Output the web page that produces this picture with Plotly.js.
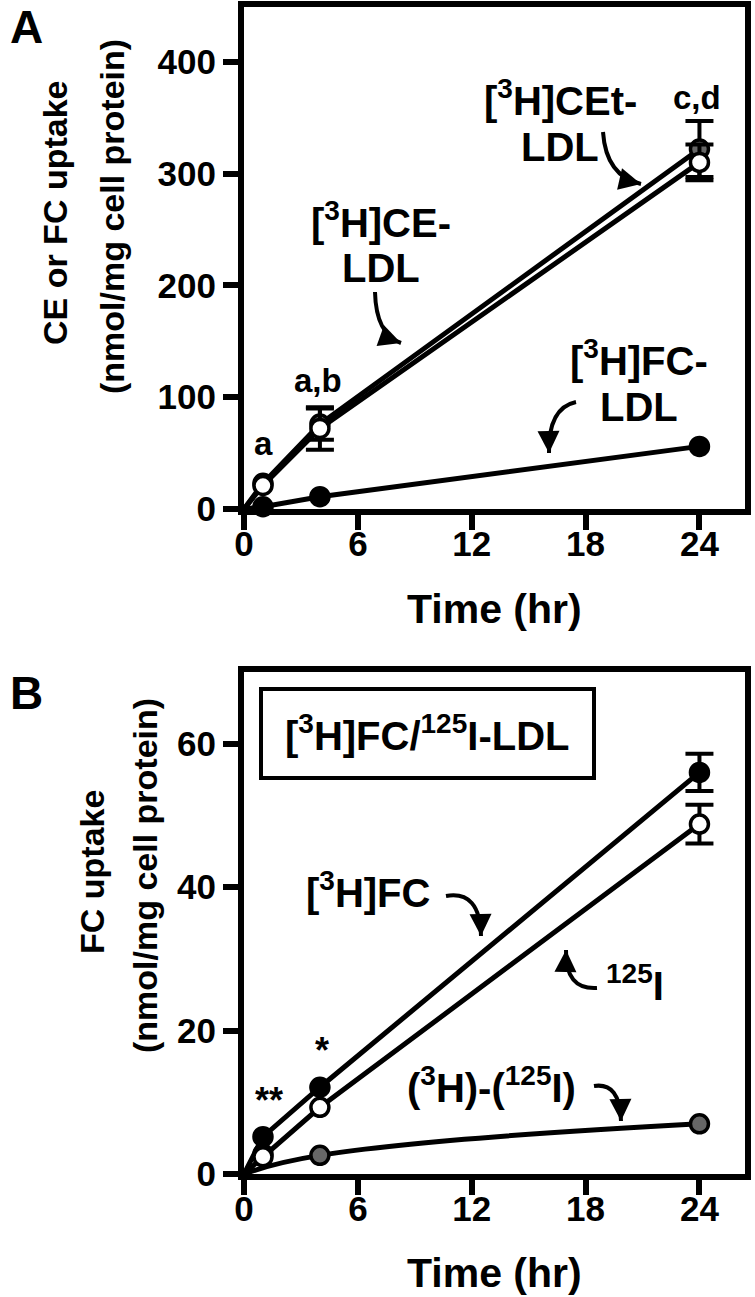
<!DOCTYPE html>
<html>
<head>
<meta charset="utf-8">
<script src="https://cdn.plot.ly/plotly-3.0.1.min.js"></script>
<style>
  body { margin: 0; background: #fff; }
  #chart { width: 755px; height: 1297px; }
</style>
</head>
<body>
<div id="chart"></div>
<script>
// ---- Panel A: uptake (nmol/mg cell protein) vs time (hr) ----
// NaN error = bar hidden behind the marker in the original
const timeA = [0, 1, 4, 24];
const ceTether = [0, 23, 76, 322];      // [3H]CEt-LDL (grey)
const ceTetherErr = [NaN, NaN, 14, 25];
const ceLdl = [0, 21, 72, 310];         // [3H]CE-LDL (open)
const ceLdlErr = [NaN, NaN, 19, 16];
const fcLdl = [0, 2, 11, 56];           // [3H]FC-LDL (black)
const fcLdlErr = [NaN, NaN, NaN, NaN];

// ---- Panel B: FC uptake, [3H]FC/125I-LDL ----
const timeB = [0, 1, 4, 24];
const fc3h = [0, 5.2, 12.1, 56];        // [3H]FC (black)
const fc3hErr = [NaN, NaN, NaN, 2.6];
const iodine125 = [0, 2.4, 9.3, 48.8];  // 125I (open)
const iodine125Err = [NaN, NaN, NaN, 2.7];
const diffTime = [1, 4, 24];            // (3H)-(125I) (grey)
const diffVal = [2.8, 2.6, 7.0];

const xTicks = [0, 6, 12, 18, 24];
const yTicksA = [0, 100, 200, 300, 400];
const yTicksB = [0, 20, 40, 60];

const W = 755, H = 1297;
const FONT = 'Liberation Sans, Arial, Helvetica, sans-serif';
const MS = 18;
const px = x => x / W;
const py = y => 1 - y / H;
const hide0 = arr => arr.map((v, i) => (i === 0 ? 0 : MS));

function series(x, y, err, fill, xa, ya) {
  return {
    x: x, y: y, xaxis: xa, yaxis: ya,
    type: 'scatter', mode: 'lines+markers', cliponaxis: false,
    line: { color: '#000', width: 5 },
    marker: { symbol: 'circle', size: hide0(x), opacity: 1, color: fill, line: { color: '#000', width: 3.5 } },
    error_y: { type: 'data', array: err, visible: true, thickness: 4, width: 14, color: '#000' },
    showlegend: false, hoverinfo: 'x+y'
  };
}

const traces = [
  series(timeA, ceTether, ceTetherErr, '#666666', 'x', 'y'),
  series(timeA, ceLdl, ceLdlErr, '#ffffff', 'x', 'y'),
  series(timeA, fcLdl, fcLdlErr, '#000000', 'x', 'y'),
  // grey difference curve from origin through the later points
  {
    x: [0].concat(diffTime.slice(1)), y: [0].concat(diffVal.slice(1)),
    xaxis: 'x2', yaxis: 'y2', type: 'scatter', mode: 'lines', cliponaxis: false,
    line: { color: '#000', width: 5, shape: 'spline', smoothing: 1.3 },
    showlegend: false, hoverinfo: 'skip'
  },
  {
    x: diffTime, y: diffVal, xaxis: 'x2', yaxis: 'y2', type: 'scatter', mode: 'markers',
    cliponaxis: false,
    marker: { symbol: 'circle', size: MS, opacity: 1, color: '#666666', line: { color: '#000', width: 3.5 } },
    showlegend: false
  },
  series(timeB, fc3h, fc3hErr, '#000000', 'x2', 'y2'),
  series(timeB, iodine125, iodine125Err, '#ffffff', 'x2', 'y2')
];

const axisBase = {
  showline: true, linewidth: 6, linecolor: '#000', mirror: true,
  ticks: 'outside', ticklen: 15, tickwidth: 6, tickcolor: '#000',
  showgrid: false, zeroline: false, fixedrange: true,
  tickfont: { family: FONT, size: 35, weight: 'bold', color: '#000' }
};
const xDom = [px(244), px(745)];

function lab(text, x, y, size, extra) {
  return Object.assign({
    text: text, xref: 'paper', yref: 'paper', x: px(x), y: py(y),
    xanchor: 'center', yanchor: 'middle', showarrow: false,
    font: { family: FONT, size: size, weight: 'bold', color: '#000' }
  }, extra || {});
}

// curved arrow: tail t, control c, head h (pixel positions)
const shapes = [];
const heads = [];
function curvedArrow(t, c, h) {
  shapes.push({
    type: 'path', xref: 'paper', yref: 'paper',
    path: `M ${px(t[0])},${py(t[1])} Q ${px(c[0])},${py(c[1])} ${px(h[0])},${py(h[1])}`,
    line: { color: '#000', width: 4 }
  });
  const dx = c[0] - h[0], dy = c[1] - h[1];
  const len = Math.hypot(dx, dy);
  heads.push({
    text: '', xref: 'paper', yref: 'paper', x: px(h[0]), y: py(h[1]),
    ax: dx / len * 12, ay: dy / len * 12, showarrow: true,
    arrowhead: 2, arrowsize: 1.1, arrowwidth: 4, arrowcolor: '#000'
  });
}
curvedArrow([603, 132], [606, 176], [641, 184]);   // CEt
curvedArrow([375, 292], [376, 334], [401, 343]);   // CE
curvedArrow([576, 402], [548, 408], [549, 453]);   // FC (A)
curvedArrow([446, 896], [480, 890], [481, 936]);   // [3H]FC (B)
curvedArrow([597, 988], [565, 990], [566, 950]);   // 125I
curvedArrow([594, 1086], [620, 1082], [621, 1121]); // difference

// legend box in panel B
shapes.push({
  type: 'rect', xref: 'paper', yref: 'paper',
  x0: px(261), x1: px(594), y0: py(778), y1: py(689),
  line: { color: '#000', width: 4 }, fillcolor: 'rgba(0,0,0,0)'
});

const annotations = [
  lab('A', 26, 27, 46),
  lab('B', 26, 693, 46),
  lab('CE or FC uptake', 55, 213, 34, { textangle: -90 }),
  lab('(nmol/mg cell protein)', 112, 217, 34, { textangle: -90 }),
  lab('FC uptake', 92, 872, 34, { textangle: -90 }),
  lab('(nmol/mg cell protein)', 145, 876, 34, { textangle: -90 }),
  lab('Time (hr)', 494, 609, 41),
  lab('Time (hr)', 494, 1273, 41),
  lab('[<sup>3</sup>H]CEt-', 560, 98, 40),
  lab('LDL', 560, 147, 40),
  lab('[<sup>3</sup>H]CE-', 381, 220, 40),
  lab('LDL', 381, 268, 40),
  lab('[<sup>3</sup>H]FC-', 639, 358, 40),
  lab('LDL', 639, 407, 40),
  lab('a', 263, 443, 33),
  lab('a,b', 318, 380, 33),
  lab('c,d', 697, 97, 33),
  lab('[<sup>3</sup>H]FC/<sup>125</sup>I-LDL', 427, 733, 40),
  lab('[<sup>3</sup>H]FC', 368, 890, 40),
  lab('<sup>125</sup>I', 635, 983, 40),
  lab('(<sup>3</sup>H)-(<sup>125</sup>I)', 491, 1085, 40),
  lab('**', 269, 1100, 36),
  lab('*', 322, 1050, 36)
].concat(heads);

const layout = {
  width: W, height: H,
  margin: { l: 0, r: 0, t: 0, b: 0 },
  paper_bgcolor: '#fff', plot_bgcolor: '#fff',
  font: { family: FONT, color: '#000', weight: 'bold' },
  showlegend: false,
  xaxis: Object.assign({}, axisBase, { domain: xDom, range: [0, 26.4], tickvals: xTicks, anchor: 'y', ticklabelstandoff: -16 }),
  yaxis: Object.assign({}, axisBase, { domain: [py(509), py(7)], range: [0, 449], tickvals: yTicksA, anchor: 'x' }),
  xaxis2: Object.assign({}, axisBase, { domain: xDom, range: [0, 26.4], tickvals: xTicks, anchor: 'y2', ticklabelstandoff: -16 }),
  yaxis2: Object.assign({}, axisBase, { domain: [py(1174), py(672)], range: [0, 70], tickvals: yTicksB, anchor: 'x2' }),
  shapes: shapes,
  annotations: annotations
};

Plotly.newPlot('chart', traces, layout, { displayModeBar: false, staticPlot: true });
</script>
</body>
</html>
